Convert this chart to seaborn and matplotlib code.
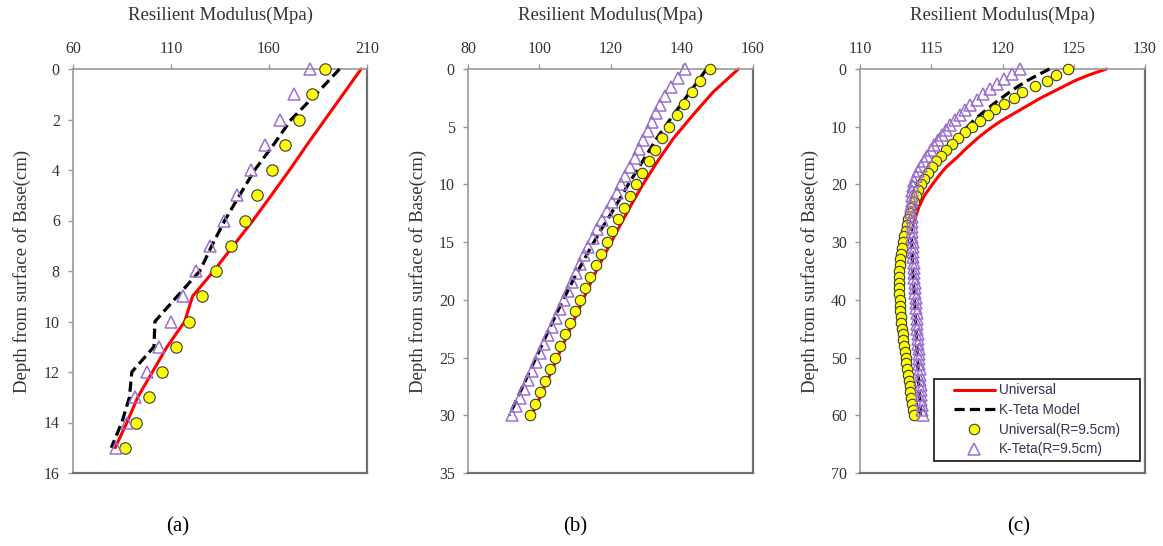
#!/usr/bin/env python3

# Third party imports.
import matplotlib

matplotlib.use("Agg")
import matplotlib.pyplot as plt
from matplotlib.patches import Rectangle
import seaborn as sns

# ---------------------------------------------------------------- data
# Panel (a)
DEPTH_A = list(range(0, 16))
UNIV_A = [207.0, 197.8, 188.6, 179.4, 170.5, 161.2, 151.8, 141.8,
          131.8, 121.0, 117.0, 108.0, 100.5, 93.0, 87.5, 81.5]
KTETA_A = [196.0, 184.0, 171.3, 162.3, 152.7, 145.0, 137.4, 130.8,
           124.7, 113.2, 101.8, 101.3, 90.0, 88.8, 84.9, 79.5]
UNIV_R_A = [188.8, 181.8, 175.2, 168.1, 161.5, 154.1, 147.6, 140.5,
            133.2, 125.9, 119.1, 112.4, 105.2, 98.8, 92.0, 86.7]
KTETA_R_A = [181.0, 173.0, 165.7, 158.1, 151.0, 143.7, 136.9, 129.8,
             123.0, 115.9, 109.8, 104.0, 97.6, 91.7, 87.8, 82.0]

# Panel (b)
DEPTH_LINE_B = [0, 2, 4, 6, 8, 10, 12, 14, 16, 18, 20, 22, 24, 26, 28, 30]
UNIV_B = [155.9, 148.8, 143.1, 137.7, 133.2, 129.1, 125.4, 121.9,
          118.5, 115.2, 112.3, 109.4, 106.5, 103.7, 100.8, 97.9]
KTETA_B = [147.0, 142.3, 137.6, 133.0, 129.0, 125.0, 121.2, 117.2,
           113.5, 110.0, 106.7, 103.6, 100.6, 97.6, 94.6, 91.6]
DEPTH_CIRC_B = list(range(0, 31))
UNIV_R_B = [147.8, 145.2, 142.8, 140.7, 138.6, 136.5, 134.4, 132.5, 130.8, 128.9,
            127.2, 125.5, 123.8, 122.0, 120.5, 118.9, 117.3, 115.9, 114.2, 112.8,
            111.4, 110.0, 108.6, 107.2, 105.8, 104.4, 103.0, 101.6, 100.2, 98.8,
            97.4]
DEPTH_TRI_B = [0, 0.77, 1.54, 2.31, 3.08, 3.85, 4.62, 5.38, 6.15, 6.92,
               7.69, 8.46, 9.23, 10.0, 10.77, 11.54, 12.31, 13.08, 13.85, 14.62,
               15.38, 16.15, 16.92, 17.69, 18.46, 19.23, 20.0, 20.77, 21.54, 22.31,
               23.08, 23.85, 24.62, 25.38, 26.15, 26.92, 27.69, 28.46, 29.23, 30.0]
KTETA_R_B = [141.0, 138.9, 137.0, 135.4, 134.0, 132.8, 131.6, 130.4, 129.2, 128.1,
             126.8, 125.5, 124.2, 122.9, 121.7, 120.4, 119.0, 117.7, 116.3, 115.0,
             113.8, 112.6, 111.4, 110.2, 109.1, 108.0, 106.9, 105.8, 104.7, 103.6,
             102.5, 101.4, 100.3, 99.2, 98.0, 96.8, 95.7, 94.6, 93.4, 92.3]

# Panel (c)
DEPTH_UNIV_C = [0, 1, 2, 3, 4, 5, 6, 7, 8, 9, 10, 11, 12, 13, 14, 15, 16, 17, 18,
                19, 20, 22, 24, 26, 28, 30, 35, 40, 50, 60]
UNIV_C = [127.3, 126.1, 125.1, 124.3, 123.5, 122.7, 122.0, 121.3, 120.6, 119.9,
          119.3, 118.75, 118.25, 117.8, 117.35, 116.95, 116.5, 116.05, 115.7, 115.38,
          115.08, 114.5, 114.12, 113.85, 113.5, 113.2, 112.85, 112.8, 113.2, 113.8]
DEPTH_KTETA_C = [0, 1, 2, 3, 4, 5, 6, 7, 8, 9, 10, 11, 12, 13, 14, 15, 16, 17, 18,
                 19, 20, 22, 24, 26, 28, 30, 35, 40, 45, 50, 55, 60]
KTETA_C = [123.3, 122.5, 121.75, 121.1, 120.5, 119.95, 119.4, 118.9, 118.4, 117.95,
           117.55, 117.15, 116.8, 116.4, 116.05, 115.7, 115.4, 115.1, 114.85, 114.6,
           114.4, 114.05, 113.8, 113.68, 113.62, 113.62, 113.7, 113.82, 113.93, 114.03,
           114.13, 114.25]
DEPTH_CIRC_C = list(range(0, 61))
UNIV_R_C = [124.6, 123.75, 123.1, 122.3, 121.4, 120.8, 120.1, 119.5, 118.95, 118.4,
            117.85, 117.37, 116.9, 116.43, 116.0, 115.65, 115.33, 115.05, 114.78, 114.52,
            114.3, 114.1, 113.93, 113.77, 113.6, 113.5, 113.4, 113.3, 113.2, 113.1,
            113.0, 112.93, 112.87, 112.83, 112.8, 112.77, 112.76, 112.75, 112.75, 112.76,
            112.78, 112.8, 112.83, 112.87, 112.9, 112.95, 113.0, 113.05, 113.1, 113.15,
            113.2, 113.25, 113.3, 113.36, 113.42, 113.48, 113.54, 113.6, 113.67, 113.74,
            113.8]
DEPTH_TRI_C = [0, 0.88, 1.76, 2.65, 3.53, 4.41, 5.29, 6.18, 7.06, 7.94,
               8.82, 9.71, 10.59, 11.47, 12.35, 13.24, 14.12, 15.0, 15.88, 16.76,
               17.65, 18.53, 19.41, 20.29, 21.18, 22.06, 22.94, 23.82, 24.71, 25.59,
               26.47, 27.35, 28.24, 29.12, 30.0, 30.88, 31.76, 32.65, 33.53, 34.41,
               35.29, 36.18, 37.06, 37.94, 38.82, 39.71, 40.59, 41.47, 42.35, 43.24,
               44.12, 45.0, 45.88, 46.76, 47.65, 48.53, 49.41, 50.29, 51.18, 52.06,
               52.94, 53.82, 54.71, 55.59, 56.47, 57.35, 58.24, 59.12, 60.0]
KTETA_R_C = [121.2, 120.65, 120.1, 119.6, 119.12, 118.65, 118.2, 117.75, 117.37, 117.02,
             116.67, 116.33, 116.02, 115.73, 115.45, 115.19, 114.96, 114.73, 114.5, 114.28,
             114.1, 113.95, 113.8, 113.72, 113.67, 113.64, 113.62, 113.61, 113.61, 113.62,
             113.63, 113.64, 113.65, 113.67, 113.69, 113.7, 113.72, 113.74, 113.76, 113.78,
             113.8, 113.82, 113.84, 113.86, 113.88, 113.9, 113.93, 113.95, 113.97, 113.99,
             114.01, 114.03, 114.05, 114.07, 114.09, 114.11, 114.13, 114.15, 114.17, 114.19,
             114.21, 114.23, 114.25, 114.27, 114.29, 114.31, 114.34, 114.37, 114.4]

LABELS = ["Universal", "K-Teta Model", "Universal(R=9.5cm)", "K-Teta(R=9.5cm)"]
XLABEL = "Resilient Modulus(Mpa)"
YLABEL = "Depth from surface of Base(cm)"

RED = "#FF0000"
YELLOW = "#FFFF00"
PURPLE = "#9B6FCF"
TEXT = "#333333"
SERIF = ["Liberation Serif", "DejaVu Serif"]

W, H = 1163, 546


def draw_panel(ax, univ, kteta, circ, tri, msize):
    # univ/kteta/circ/tri are (values, depths) pairs
    sns.lineplot(x=univ[0], y=univ[1], sort=False, estimator=None, color=RED,
                 lw=2.2, ax=ax, legend=False, label=LABELS[0], zorder=2,
                 clip_on=False)
    sns.lineplot(x=kteta[0], y=kteta[1], sort=False, estimator=None,
                 color="black", lw=2.3, linestyle=(0, (3.2, 1.6)), ax=ax,
                 legend=False, label=LABELS[1], zorder=3, clip_on=False)
    sns.lineplot(x=circ[0], y=circ[1], sort=False, estimator=None, color=YELLOW,
                 linestyle="", marker="o", markersize=msize,
                 markerfacecolor=YELLOW, markeredgecolor="#3a3a3a",
                 markeredgewidth=0.8, ax=ax, legend=False, label=LABELS[2],
                 zorder=4, clip_on=False)
    sns.lineplot(x=tri[0], y=tri[1], sort=False, estimator=None, color=PURPLE,
                 linestyle="", marker="^", markersize=msize + 0.7,
                 markerfacecolor="none", markeredgecolor=PURPLE,
                 markeredgewidth=1.1, ax=ax, legend=False, label=LABELS[3],
                 zorder=5, clip_on=False)


def style_axes(ax, xlim, xticks, ylim, yticks):
    ax.set_xlim(*xlim)
    ax.set_ylim(ylim[1], ylim[0])
    ax.set_xticks(xticks)
    ax.set_yticks(yticks)
    ax.xaxis.tick_top()
    ax.tick_params(axis="x", top=True, bottom=False, labeltop=True,
                   labelbottom=False, direction="out", length=3.5, width=1,
                   color="#9a9a9a", pad=5, labelsize=11.5, labelcolor=TEXT)
    ax.tick_params(axis="y", left=True, direction="out", length=3.5, width=1,
                   color="#9a9a9a", pad=6, labelsize=11.5, labelcolor=TEXT)
    for lab in ax.get_xticklabels() + ax.get_yticklabels():
        lab.set_family(SERIF)
    for side in ["top", "left"]:
        ax.spines[side].set_color("#9a9a9a")
        ax.spines[side].set_linewidth(1.2)
    for side in ["right", "bottom"]:
        ax.spines[side].set_color("#707070")
        ax.spines[side].set_linewidth(1.6)
    ax.set_xlabel("")
    ax.set_ylabel("")


def main():
    sns.set_theme(style="white")
    plt.rcParams["font.family"] = SERIF

    fig = plt.figure(figsize=(W / 100, H / 100), dpi=100)
    fig.patch.set_facecolor("white")

    # axes boxes in pixels: left, right
    boxes = [(73, 367), (468, 753), (860, 1145)]
    top, bottom = 69, 473
    axes = []
    for left, right in boxes:
        ax = fig.add_axes([left / W, 1 - bottom / H, (right - left) / W,
                           (bottom - top) / H])
        axes.append(ax)
    ax_a, ax_b, ax_c = axes

    draw_panel(ax_a, (UNIV_A, DEPTH_A), (KTETA_A, DEPTH_A),
               (UNIV_R_A, DEPTH_A), (KTETA_R_A, DEPTH_A), 8.2)
    style_axes(ax_a, (60, 210), [60, 110, 160, 210], (0, 16), list(range(0, 17, 2)))

    draw_panel(ax_b, (UNIV_B, DEPTH_LINE_B), (KTETA_B, DEPTH_LINE_B),
               (UNIV_R_B, DEPTH_CIRC_B), (KTETA_R_B, DEPTH_TRI_B), 7.5)
    style_axes(ax_b, (80, 160), [80, 100, 120, 140, 160], (0, 35),
               list(range(0, 36, 5)))

    draw_panel(ax_c, (UNIV_C, DEPTH_UNIV_C), (KTETA_C, DEPTH_KTETA_C),
               (UNIV_R_C, DEPTH_CIRC_C), (KTETA_R_C, DEPTH_TRI_C), 7.5)
    style_axes(ax_c, (110, 130), [110, 115, 120, 125, 130], (0, 70),
               list(range(0, 71, 10)))

    # legend box in panel (c)
    ax_c.add_patch(Rectangle((0.26, 0.03), 0.722, 0.203, transform=ax_c.transAxes,
                             facecolor="white", edgecolor="#262626", lw=1.3,
                             zorder=6, clip_on=False))
    handles, labels = ax_c.get_legend_handles_labels()
    leg = ax_c.legend(handles, labels, loc="center", bbox_to_anchor=(0.621, 0.1315),
                      frameon=False, handlelength=3.0, handletextpad=0.3,
                      labelspacing=0.42, borderpad=0.2,
                      prop={"family": ["Liberation Sans", "DejaVu Sans"], "size": 9.8})
    leg.set_zorder(7)
    for t in leg.get_texts():
        t.set_color("#3d2f52")

    # axis titles and captions
    for (left, right), cap_x, ylab_x, cap in zip(
        boxes, [178, 575, 1019], [22, 418, 810], ["(a)", "(b)", "(c)"]
    ):
        fig.text((left + right) / 2 / W, 1 - 15 / H, XLABEL, ha="center",
                 va="center", fontsize=13.5, color=TEXT, family=SERIF)
        fig.text(ylab_x / W, 1 - 271 / H, YLABEL, ha="center", va="center",
                 rotation=90, fontsize=13.5, color=TEXT, family=SERIF)
        fig.text(cap_x / W, 1 - 527 / H, cap, ha="center", va="center",
                 fontsize=15, color="black", family=SERIF)

    fig.savefig("out.png", dpi=100, facecolor="white")
    plt.close()


if __name__ == "__main__":
    main()
